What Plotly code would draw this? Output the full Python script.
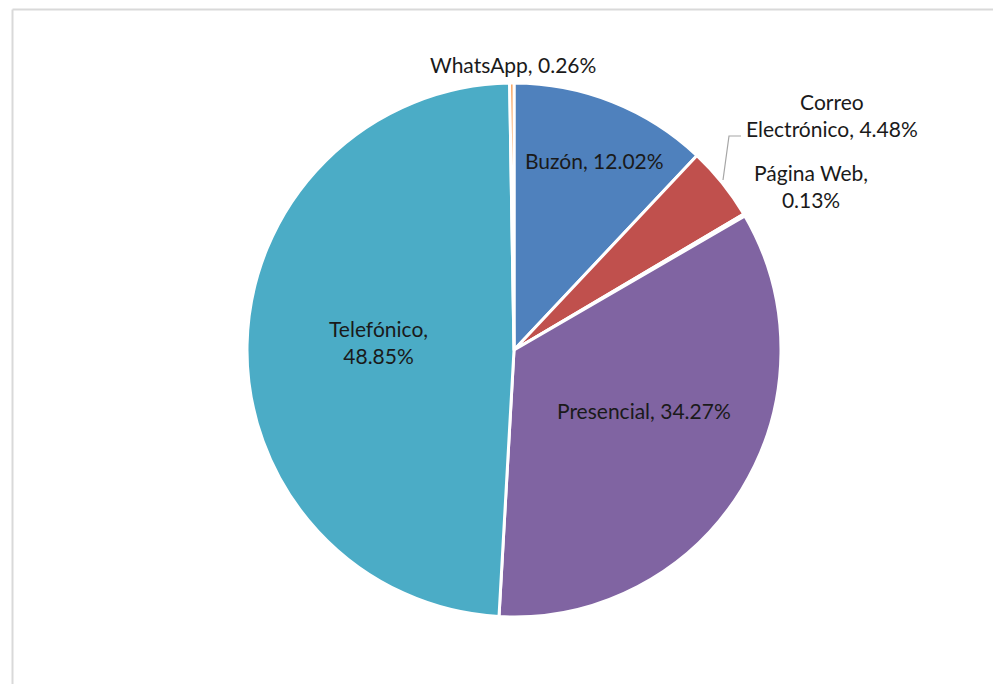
import plotly.graph_objects as go

# Data
categories = ["Buzón", "Correo Electrónico", "Página Web", "Presencial", "Telefónico", "WhatsApp"]
values = [12.02, 4.48, 0.13, 34.27, 48.85, 0.26]
colors = ["#4F81BD", "#C0504D", "#9BBB59", "#8064A2", "#4BACC6", "#F79646"]

# Label layout (text line breaks and pixel centres of label blocks)
label_text = [
    "Buzón, {v:.2f}%",
    "Correo<br>Electrónico, {v:.2f}%",
    "Página Web,<br>{v:.2f}%",
    "Presencial, {v:.2f}%",
    "Telefónico,<br>{v:.2f}%",
    "WhatsApp, {v:.2f}%",
]
label_pos = [(594, 160), (832, 115), (811, 186), (644, 410), (378, 342), (513, 64)]

W, H = 1001, 684
OFF = 8  # page body margin offset
cx, cy, r = 514 - OFF, 350 - OFF, 267


def px2paper(px, py):
    return (px - OFF) / W, 1 - (py - OFF) / H


fig = go.Figure(go.Pie(
    labels=categories,
    values=values,
    sort=False,
    direction="clockwise",
    rotation=0,
    marker=dict(colors=colors, line=dict(color="white", width=3)),
    textinfo="none",
    hoverinfo="label+percent",
    showlegend=False,
    domain=dict(x=[(cx - r) / W, (cx + r) / W], y=[(H - cy - r) / H, (H - cy + r) / H]),
))

for txt, v, (px, py) in zip(label_text, values, label_pos):
    ax, ay = px2paper(px, py)
    fig.add_annotation(
        x=ax, y=ay, xref="paper", yref="paper",
        text=txt.format(v=v), showarrow=False, align="center",
        font=dict(family="Lato", size=21, color="#1a1a1a"),
        xanchor="center", yanchor="middle",
    )

# leader line for Correo Electrónico
pts = [px2paper(741, 136), px2paper(729, 136), px2paper(723, 180)]
fig.add_shape(type="path", xref="paper", yref="paper",
              path="M {} {} L {} {} L {} {}".format(*[c for p in pts for c in p]),
              line=dict(color="#a6a6a6", width=1.2))

# chart area border (top and left visible)
x0, y0 = px2paper(12.5, 9.5)
fig.add_shape(type="line", xref="paper", yref="paper", x0=x0, x1=1, y0=y0, y1=y0,
              line=dict(color="#d9d9d9", width=2))
fig.add_shape(type="line", xref="paper", yref="paper", x0=x0, x1=x0, y0=y0, y1=0,
              line=dict(color="#d9d9d9", width=2))

fig.update_layout(
    width=W, height=H,
    margin=dict(l=0, r=0, t=0, b=0),
    paper_bgcolor="white", plot_bgcolor="white",
)

fig.write_html("out.html")
